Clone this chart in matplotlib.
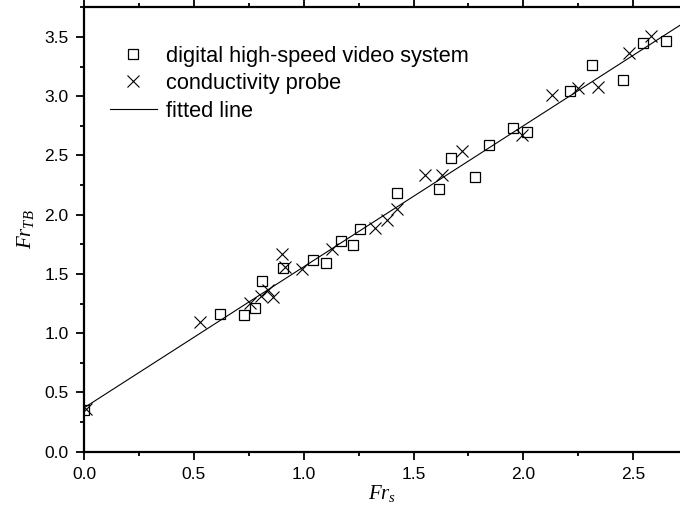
import numpy as np
import matplotlib
matplotlib.use("Agg")
import matplotlib.pyplot as plt
from matplotlib.ticker import MultipleLocator

plt.rcParams['font.family'] = ['Liberation Sans', 'DejaVu Sans']
plt.rcParams['mathtext.fontset'] = 'custom'
plt.rcParams['mathtext.it'] = 'Liberation Serif:italic'
plt.rcParams['mathtext.rm'] = 'Liberation Serif'

# digital high-speed video system
video_x = [0.0, 0.62, 0.73, 0.78, 0.81, 0.905, 1.044, 1.10, 1.17, 1.226, 1.257,
           1.426, 1.616, 1.669, 1.78, 1.843, 1.954, 2.015, 2.212, 2.311, 2.455,
           2.546, 2.648]
video_y = [0.35, 1.16, 1.15, 1.21, 1.44, 1.553, 1.62, 1.59, 1.78, 1.748, 1.88,
           2.184, 2.22, 2.48, 2.32, 2.59, 2.732, 2.70, 3.044, 3.26, 3.14,
           3.45, 3.465]

# conductivity probe
probe_x = [0.01, 0.528, 0.756, 0.805, 0.839, 0.862, 0.902, 0.915, 0.991, 1.127,
           1.325, 1.38, 1.423, 1.552, 1.631, 1.722, 1.992, 2.132, 2.25, 2.34,
           2.482, 2.58]
probe_y = [0.36, 1.096, 1.251, 1.316, 1.363, 1.307, 1.665, 1.56, 1.542, 1.712,
           1.89, 1.954, 2.05, 2.333, 2.333, 2.54, 2.676, 3.008, 3.07, 3.08,
           3.364, 3.505]

# fitted line Fr_TB = a + b * Fr_s
fit_a = 0.37
fit_b = 1.19

x_max = 2.713
y_max = 3.75

fig = plt.figure(figsize=(6.8, 5.2), dpi=100)
ax = fig.add_axes([84 / 680, 68.3 / 520, 596 / 680, 444.4 / 520])

ax.plot(video_x, video_y, linestyle='none', marker='s', markersize=7.2,
        markerfacecolor='none', markeredgecolor='black', markeredgewidth=0.9,
        label='digital high-speed video system', zorder=3)
ax.plot(probe_x, probe_y, linestyle='none', marker='x', markersize=8.8,
        color='black', markeredgewidth=0.8, label='conductivity probe', zorder=3)
xf = np.array([0.0, x_max])
ax.plot(xf, fit_a + fit_b * xf, color='black', linewidth=0.8, label='fitted line')

ax.set_xlim(0, x_max)
ax.set_ylim(0, y_max)
ax.xaxis.set_major_locator(MultipleLocator(0.5))
ax.xaxis.set_minor_locator(MultipleLocator(0.25))
ax.yaxis.set_major_locator(MultipleLocator(0.5))
ax.yaxis.set_minor_locator(MultipleLocator(0.25))
ax.xaxis.set_major_formatter(matplotlib.ticker.FormatStrFormatter('%.1f'))
ax.yaxis.set_major_formatter(matplotlib.ticker.FormatStrFormatter('%.1f'))

ax.spines['right'].set_visible(False)
for s in ['left', 'bottom', 'top']:
    ax.spines[s].set_linewidth(1.6)
ax.tick_params(which='both', direction='out', top=True, right=False,
               width=1.3, labelsize=12.5, color='black')
ax.tick_params(which='major', length=6, pad=5)
ax.tick_params(which='minor', length=3)

ax.set_xlabel('$Fr_s$', fontsize=15, labelpad=1)
ax.set_ylabel('$Fr_{TB}$', fontsize=15, labelpad=6)

ax.legend(loc='upper left', bbox_to_anchor=(0.0436, 0.914), frameon=False,
          fontsize=15.7, handlelength=2.15, handletextpad=0.4, labelspacing=0.3,
          borderpad=0, borderaxespad=0)

fig.savefig('out.png', dpi=100)
